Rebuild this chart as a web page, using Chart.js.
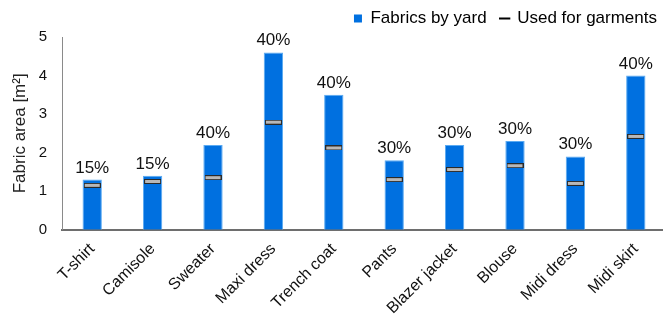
<!DOCTYPE html>
<html lang="en">
<head>
    <meta charset="UTF-8">
    <title>Fabric area by garment</title>
    <style>
        body { margin: 0; background: #fff; overflow: hidden; }
        #wrap { width: 671px; height: 320px; }
    </style>
    <script src="https://cdn.jsdelivr.net/npm/chart.js"></script>
</head>
<body>
    <div id="wrap"><canvas id="chart" width="671" height="320"></canvas></div>

    <script>
        const garments = ['T-shirt', 'Camisole', 'Sweater', 'Maxi dress', 'Trench coat', 'Pants', 'Blazer jacket', 'Blouse', 'Midi dress', 'Midi skirt'];
        const fabricByYard = [1.3, 1.4, 2.2, 4.6, 3.5, 1.8, 2.2, 2.3, 1.9, 4.0];
        const usedForGarments = [1.15, 1.25, 1.35, 2.79, 2.12, 1.3, 1.56, 1.66, 1.2, 2.42];
        const wasteLabels = ['15%', '15%', '40%', '40%', '40%', '30%', '30%', '30%', '30%', '40%'];
        const yTicks = [0, 1, 2, 3, 4, 5];

        Chart.defaults.font.family = '"Liberation Sans", Arial, sans-serif';
        Chart.defaults.color = '#222';

        // small grey bar with dark outline for the "used" marks
        function makeMarker() {
            const c = document.createElement('canvas');
            c.width = 17;
            c.height = 5;
            const g = c.getContext('2d');
            g.fillStyle = '#b8b8b8';
            g.fillRect(0, 0, 17, 5);
            g.strokeStyle = '#2a2a2a';
            g.lineWidth = 1;
            g.strokeRect(0.5, 0.5, 16, 4);
            return c;
        }

        // percentage labels over the bars
        const pctLabels = {
            id: 'pctLabels',
            afterDatasetsDraw(chart) {
                const ctx = chart.ctx;
                const meta = chart.getDatasetMeta(0);
                ctx.save();
                ctx.font = '17px "Liberation Sans", Arial, sans-serif';
                ctx.fillStyle = '#111';
                ctx.textAlign = 'center';
                ctx.textBaseline = 'alphabetic';
                meta.data.forEach((bar, i) => {
                    ctx.fillText(wasteLabels[i], bar.x, bar.y - 7);
                });
                ctx.restore();
            }
        };

        new Chart(document.getElementById('chart'), {
            data: {
                labels: garments,
                datasets: [
                    {
                        type: 'bar',
                        label: 'Fabrics by yard',
                        data: fabricByYard,
                        backgroundColor: '#0070e0',
                        borderColor: '#5aaaf2',
                        borderWidth: 1,
                        categoryPercentage: 1,
                        barPercentage: 0.32,
                        order: 2
                    },
                    {
                        type: 'line',
                        label: 'Used for garments',
                        data: usedForGarments,
                        showLine: false,
                        pointStyle: makeMarker(),
                        order: 1
                    }
                ]
            },
            plugins: [pctLabels],
            options: {
                responsive: false,
                animation: false,
                layout: { padding: { left: 10, right: 0, top: -4, bottom: -8 } },
                plugins: {
                    tooltip: { enabled: false },
                    legend: {
                        position: 'top',
                        align: 'end',
                        labels: {
                            usePointStyle: true,
                            boxHeight: 8,
                            boxWidth: 8,
                            padding: 14,
                            color: '#222',
                            font: { size: 17 },
                            generateLabels: () => [
                                { text: 'Fabrics by yard', pointStyle: 'rect', fillStyle: '#0070e0', strokeStyle: '#0070e0', lineWidth: 0, datasetIndex: 0, hidden: false },
                                { text: 'Used for garments', pointStyle: 'line', fillStyle: '#000', strokeStyle: '#000', lineWidth: 2, datasetIndex: 1, hidden: false }
                            ]
                        }
                    }
                },
                scales: {
                    x: {
                        z: 1,
                        grid: { display: false, drawTicks: false },
                        border: { color: '#6e6e6e', width: 2 },
                        ticks: {
                            color: '#111',
                            font: { size: 16 },
                            maxRotation: 45,
                            minRotation: 45,
                            padding: 10
                        },
                        // plot runs right to the edge like the original
                        afterFit: scale => { scale.paddingLeft = 0; scale.paddingRight = 0; }
                    },
                    y: {
                        min: 0,
                        max: 5,
                        afterBuildTicks: axis => { axis.ticks = yTicks.map(v => ({ value: v })); },
                        afterFit: axis => { axis.width = 52; },
                        grid: { display: false, drawTicks: false },
                        border: { color: '#8a8a8a', width: 1 },
                        ticks: { color: '#111', font: { size: 15 }, padding: 15 },
                        title: {
                            display: true,
                            text: 'Fabric area [m\u00b2]',
                            color: '#222',
                            font: { size: 17 },
                            padding: { top: 0, bottom: 0 }
                        }
                    }
                }
            }
        });
    </script>
</body>
</html>
